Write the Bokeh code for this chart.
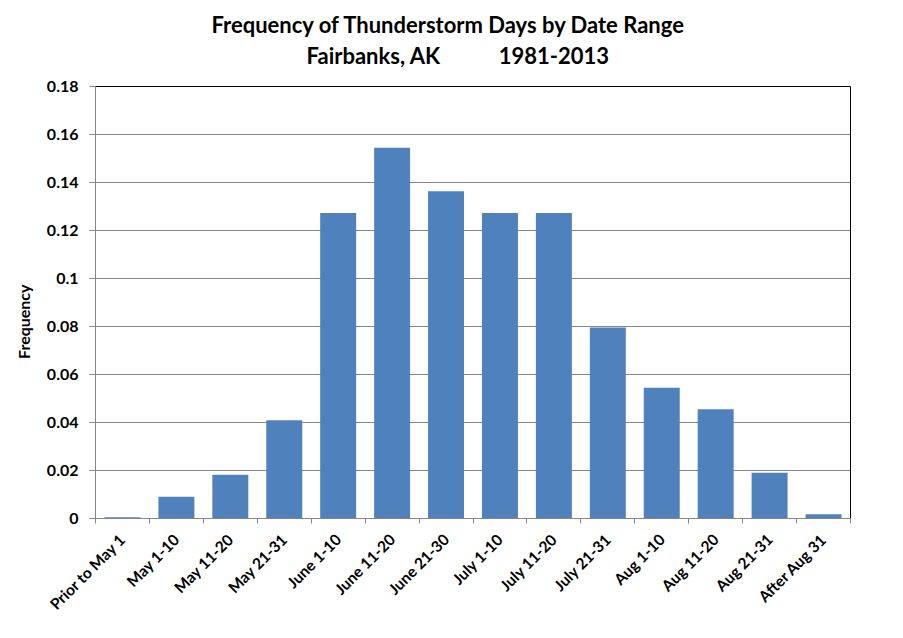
from bokeh.plotting import figure
from bokeh.models import Range1d, FixedTicker, Title
from bokeh.embed import file_html
from bokeh.resources import INLINE

categories = ["Prior to May 1", "May 1-10", "May 11-20", "May 21-31", "June 1-10",
              "June 11-20", "June 21-30", "July 1-10", "July 11-20", "July 21-31",
              "Aug 1-10", "Aug 11-20", "Aug 21-31", "After Aug 31"]
frequency = [0.0005, 0.0091, 0.0182, 0.0409, 0.1273, 0.1545, 0.1364, 0.1273,
             0.1273, 0.0796, 0.0545, 0.0455, 0.0191, 0.0018]
y_ticks = [0, 0.02, 0.04, 0.06, 0.08, 0.1, 0.12, 0.14, 0.16, 0.18]
y_tick_labels = ["0", "0.02", "0.04", "0.06", "0.08", "0.1", "0.12", "0.14", "0.16", "0.18"]
title_line1 = "Frequency of Thunderstorm Days by Date Range"
title_line2 = "Fairbanks, AK" + "\u00a0" * 11 + "1981-2013"
y_label = "Frequency" + "\u00a0" * 10

FONT = "Lato"
BAR = "#4F81BD"
GRID = "#868686"

n = len(categories)
centers = [i + 0.5 for i in range(n)]

p = figure(width=887, height=622, output_backend="svg", toolbar_location=None,
           x_range=Range1d(0, n), y_range=Range1d(0, 0.18),
           min_border_left=95, min_border_right=37, min_border_top=86, min_border_bottom=103)
p.background_fill_color = "white"
p.border_fill_color = "white"
p.outline_line_color = "black"
p.outline_line_width = 1

p.vbar(x=centers, top=frequency, width=0.667, color=BAR, line_color=None)

# titles: plot title on top, then line 2, then an invisible spacer row next to the frame
p.title.text = title_line1
p.title.align = "left"
p.title.offset = 116
p.title.text_font = FONT
p.title.text_font_style = "bold"
p.title.text_font_size = "22px"
p.title.text_color = "black"
p.title.standoff = 4
p.add_layout(Title(text="\u00a0", align="left", text_font=FONT, text_font_size="1px",
                   standoff=15), "above")
p.add_layout(Title(text=title_line2, align="left", offset=211, text_font=FONT,
                   text_font_style="bold", text_font_size="22px", text_color="black",
                   standoff=0), "above")

# x axis
p.xaxis.ticker = FixedTicker(ticks=centers, minor_ticks=list(range(n + 1)))
p.xaxis.major_label_overrides = {c: lab for c, lab in zip(centers, categories)}
p.xaxis.major_tick_out = 0
p.xaxis.major_tick_in = 0
p.xaxis.minor_tick_out = 5
p.xaxis.minor_tick_in = 0
p.xaxis.minor_tick_line_color = GRID
p.xaxis.axis_line_color = GRID
p.xaxis.major_label_orientation = 0.7854
p.xaxis.major_label_text_font = FONT
p.xaxis.major_label_text_font_style = "bold"
p.xaxis.major_label_text_font_size = "15.5px"
p.xaxis.major_label_text_color = "black"
p.xaxis.major_label_standoff = 13

# y axis
p.yaxis.ticker = FixedTicker(ticks=y_ticks, minor_ticks=[])
p.yaxis.major_label_overrides = {t: lab for t, lab in zip(y_ticks, y_tick_labels)}
p.yaxis.major_tick_out = 6
p.yaxis.major_tick_in = 0
p.yaxis.major_tick_line_color = GRID
p.yaxis.axis_line_color = GRID
p.yaxis.major_label_text_font = FONT
p.yaxis.major_label_text_font_style = "bold"
p.yaxis.major_label_text_font_size = "16px"
p.yaxis.major_label_text_color = "black"
p.yaxis.major_label_standoff = 11
p.yaxis.axis_label = y_label
p.yaxis.axis_label_text_font = FONT
p.yaxis.axis_label_text_font_style = "bold"
p.yaxis.axis_label_text_font_size = "16px"
p.yaxis.axis_label_text_color = "black"
p.yaxis.axis_label_standoff = 11

p.xgrid.grid_line_color = None
p.ygrid.ticker = FixedTicker(ticks=y_ticks)
p.ygrid.grid_line_color = GRID
p.ygrid.grid_line_width = 1

open("out.html", "w").write(file_html(p, INLINE))
